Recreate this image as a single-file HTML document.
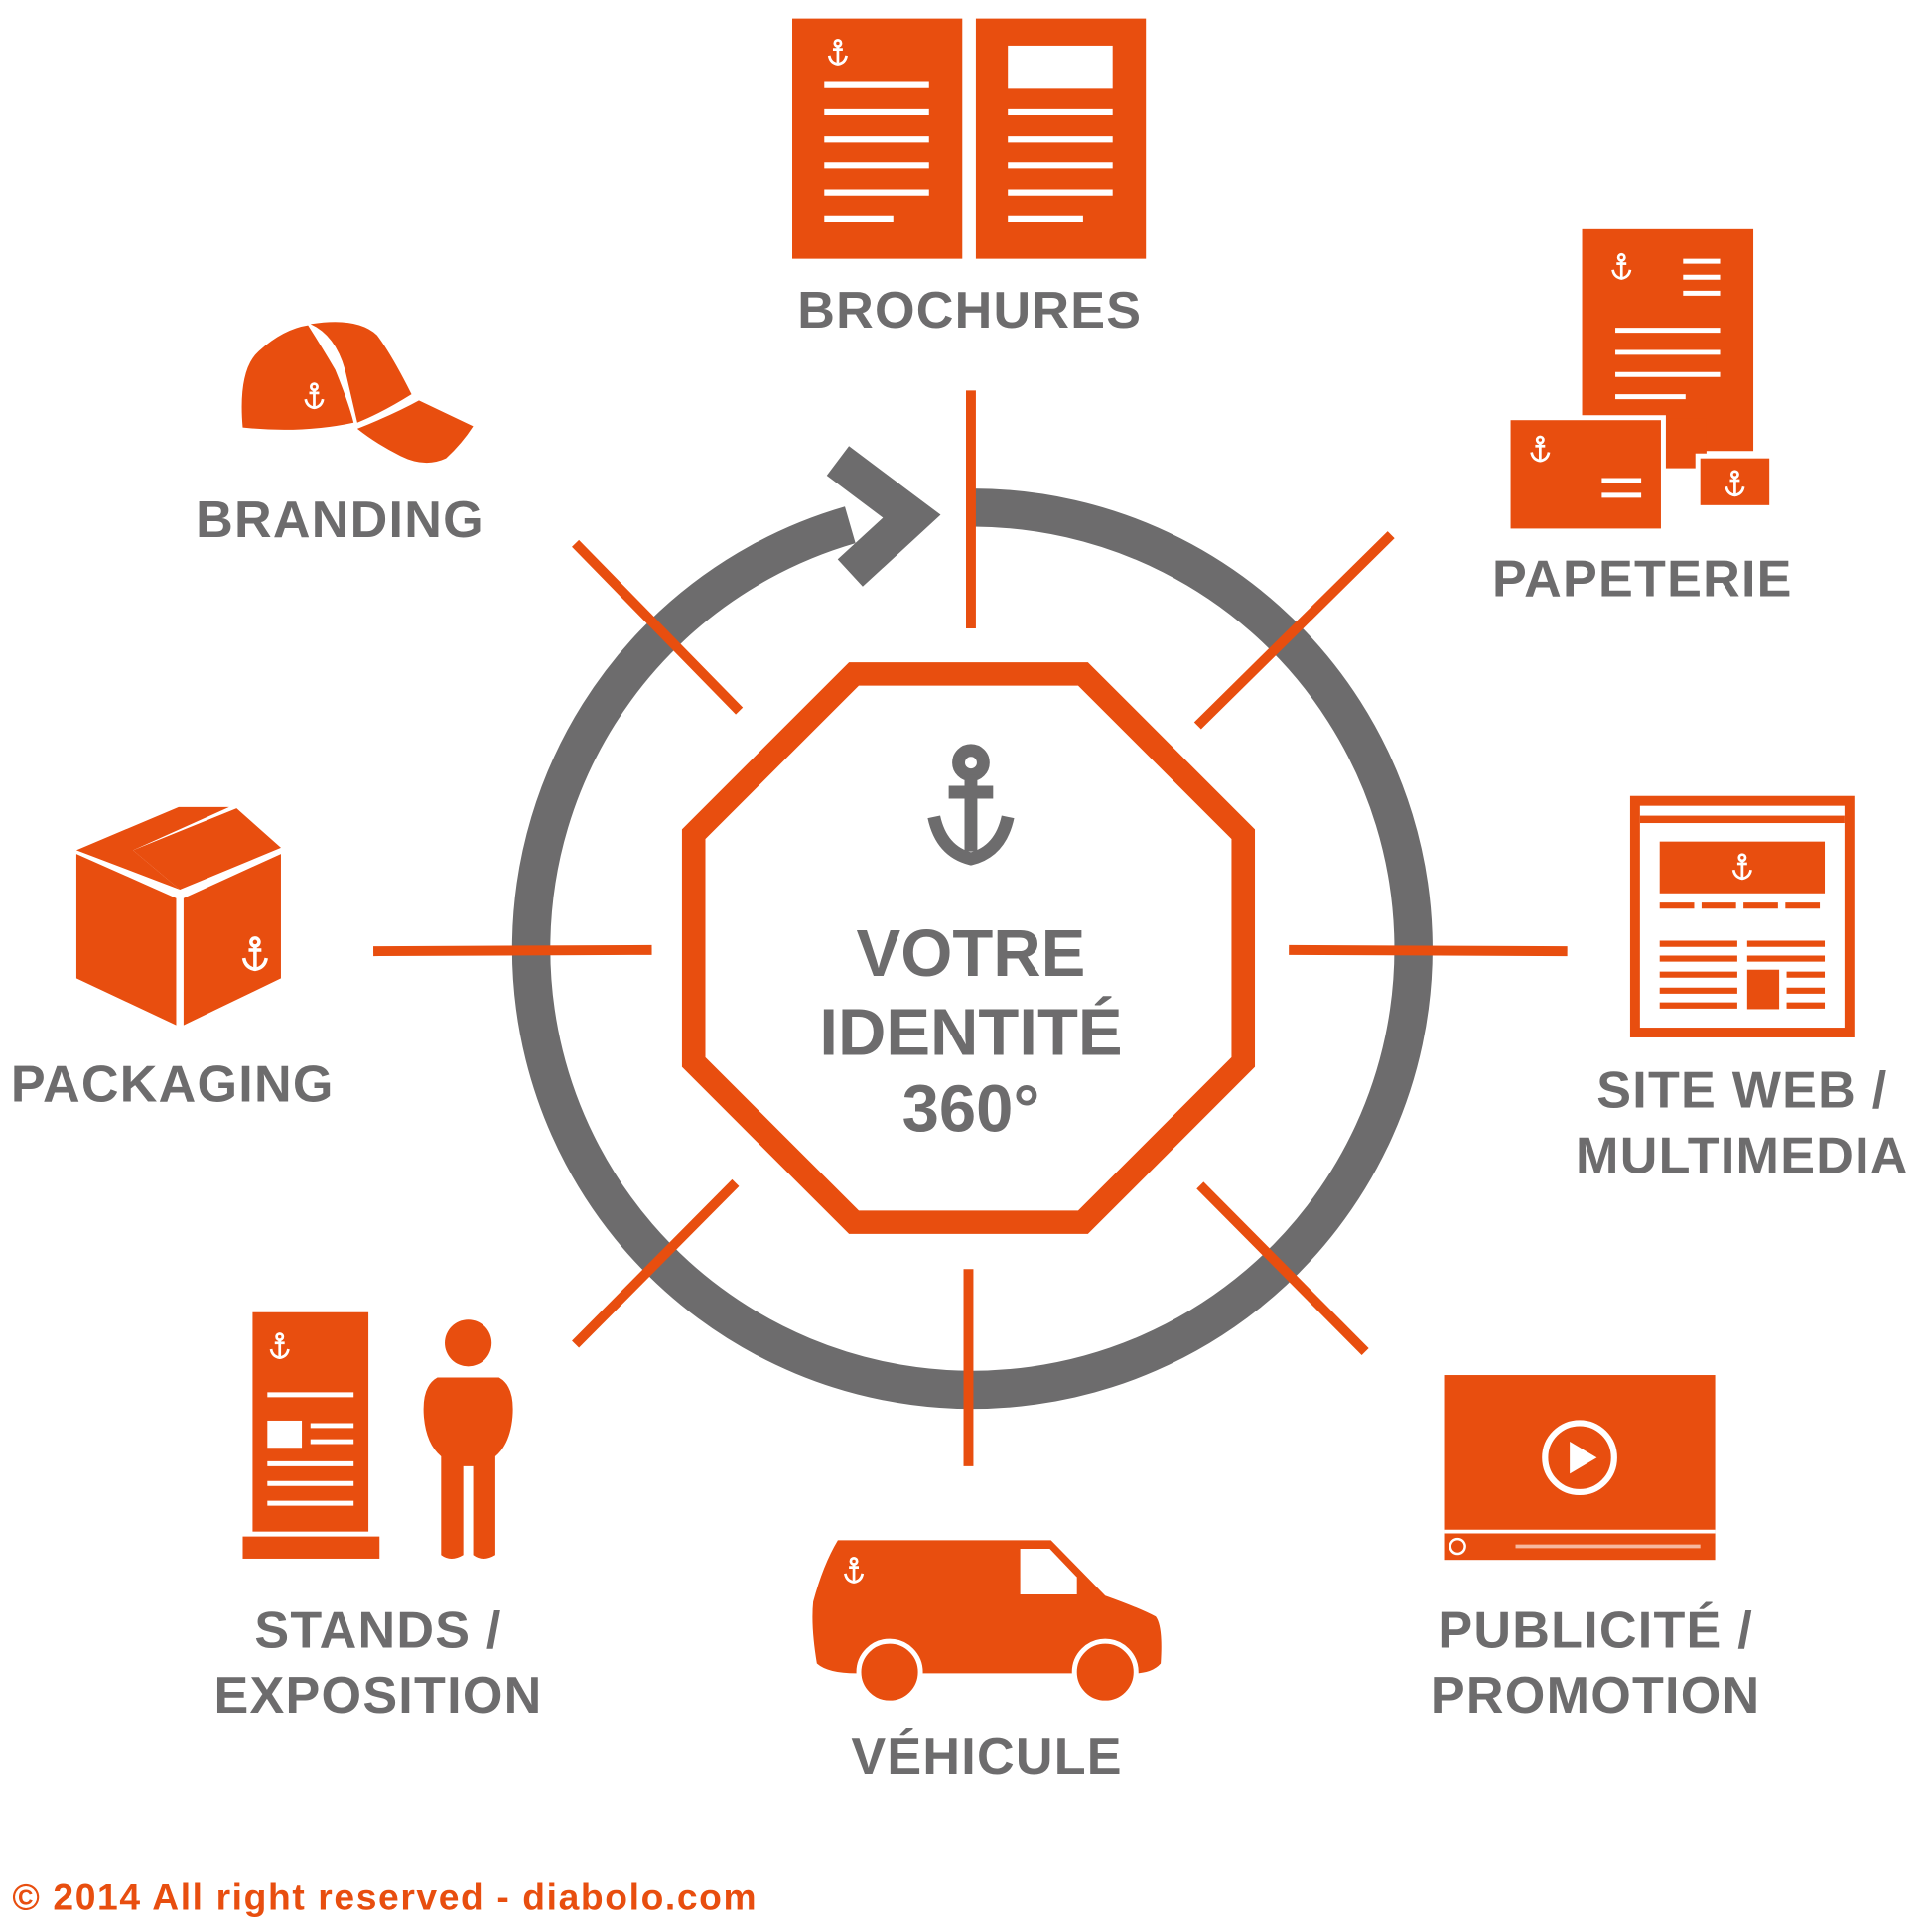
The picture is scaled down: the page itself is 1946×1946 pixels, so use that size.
<!DOCTYPE html>
<html><head><meta charset="utf-8"><style>
html,body{margin:0;padding:0;background:#fff}
svg{display:block}
text{font-family:"Liberation Sans",sans-serif;font-weight:bold;fill:#6d6c6d}
</style></head><body>
<svg width="1946" height="1946" viewBox="0 0 1568 1568" xmlns="http://www.w3.org/2000/svg">
<defs>
<g id="anc" fill="none" stroke="#fff" stroke-width="2.2">
<circle cx="0" cy="-8" r="2.5"/><line x1="0" y1="-5.5" x2="0" y2="8"/><line x1="-4" y1="-3" x2="4" y2="-3"/><path d="M-7 2 Q-6 8 0 9 Q6 8 7 2"/>
</g>
</defs>
<path d="M790 412 A358 358 0 1 1 690 426" fill="none" stroke="#6d6c6d" stroke-width="31"/>
<polyline points="680,374 740,419 690,465" fill="none" stroke="#6d6c6d" stroke-width="30"/>
<g stroke="#e84e0f" stroke-width="8">
<line x1="788" y1="317" x2="788" y2="510"/>
<line x1="786" y1="1030" x2="786" y2="1190"/>
<line x1="303" y1="772" x2="529" y2="771"/>
<line x1="1046" y1="771" x2="1272" y2="772"/>
<line x1="467" y1="441" x2="600" y2="577"/>
<line x1="1129" y1="434" x2="972" y2="589"/>
<line x1="597" y1="960" x2="467" y2="1091"/>
<line x1="974" y1="962" x2="1108" y2="1097"/>
</g>
<polygon points="693,547 879,547 1009,677 1009,862 879,992 693,992 563,862 563,677" fill="#fff" stroke="#e84e0f" stroke-width="19"/>
<g transform="translate(788,655) scale(4)" stroke="#6d6c6d" stroke-width="2.6" fill="none">
<circle cx="0" cy="-9" r="2.5"/><line x1="0" y1="-6.5" x2="0" y2="9"/><line x1="-4.5" y1="-3" x2="4.5" y2="-3"/><path d="M-7.5 2 Q-6 9 0 10.5 Q6 9 7.5 2"/>
</g>
<text x="788" y="792" font-size="54" text-anchor="middle">VOTRE</text>
<text x="788" y="856" font-size="54" text-anchor="middle">IDENTITÉ</text>
<text x="788" y="918" font-size="54" text-anchor="middle">360°</text>
<g font-size="42" letter-spacing="1">
<text x="787" y="266" text-anchor="middle">BROCHURES</text>
<text x="276" y="436" text-anchor="middle">BRANDING</text>
<text x="1333" y="484" text-anchor="middle">PAPETERIE</text>
<text x="140" y="894" text-anchor="middle">PACKAGING</text>
<text x="1414" y="899" text-anchor="middle">SITE WEB /</text>
<text x="1414" y="952" text-anchor="middle">MULTIMEDIA</text>
<text x="307" y="1337" text-anchor="middle">STANDS /</text>
<text x="307" y="1390" text-anchor="middle">EXPOSITION</text>
<text x="1295" y="1337" text-anchor="middle">PUBLICITÉ /</text>
<text x="1295" y="1390" text-anchor="middle">PROMOTION</text>
<text x="801" y="1440" text-anchor="middle">VÉHICULE</text>
</g>
<text x="10" y="1550" font-size="30" letter-spacing="1.3" style="fill:#e84e0f">© 2014 All right reserved - diabolo.com</text>
<g fill="#e84e0f"><rect x="643" y="15" width="138" height="195"/><rect x="792" y="15" width="138" height="195"/></g>
<g stroke="#fff" stroke-width="5">
<line x1="669" y1="69" x2="754" y2="69"/><line x1="669" y1="91" x2="754" y2="91"/><line x1="669" y1="113" x2="754" y2="113"/><line x1="669" y1="134" x2="754" y2="134"/><line x1="669" y1="156" x2="754" y2="156"/><line x1="669" y1="178" x2="725" y2="178"/>
<line x1="818" y1="91" x2="903" y2="91"/><line x1="818" y1="113" x2="903" y2="113"/><line x1="818" y1="134" x2="903" y2="134"/><line x1="818" y1="156" x2="903" y2="156"/><line x1="818" y1="178" x2="879" y2="178"/>
</g>
<rect x="818" y="37" width="85" height="35" fill="#fff"/>
<use href="#anc" transform="translate(680,43)"/>
<rect x="1284" y="186" width="139" height="180" fill="#e84e0f"/>
<rect x="1350" y="340" width="35" height="40" fill="#e84e0f"/>
<g stroke="#fff" stroke-width="4"><line x1="1366" y1="212" x2="1396" y2="212"/><line x1="1366" y1="225" x2="1396" y2="225"/><line x1="1366" y1="238" x2="1396" y2="238"/><line x1="1311" y1="268" x2="1396" y2="268"/><line x1="1311" y1="286" x2="1396" y2="286"/><line x1="1311" y1="304" x2="1396" y2="304"/><line x1="1311" y1="322" x2="1368" y2="322"/></g>
<rect x="1224" y="339" width="126" height="92" fill="#e84e0f" stroke="#fff" stroke-width="4"/>
<rect x="1378" y="370" width="60" height="42" fill="#e84e0f" stroke="#fff" stroke-width="4"/>
<g stroke="#fff" stroke-width="4"><line x1="1300" y1="390" x2="1332" y2="390"/><line x1="1300" y1="402" x2="1332" y2="402"/></g>
<use href="#anc" transform="translate(1316,217)"/><use href="#anc" transform="translate(1250,365)"/><use href="#anc" transform="translate(1408,393)"/>
<path d="M197 347 Q193 300 210 285 Q230 267 250 264 Q262 283 272 300 Q283 327 287 343 Q245 352 197 347Z" fill="#e84e0f"/>
<path d="M252 263 Q290 257 306 272 Q318 288 334 320 Q310 335 290 343 L280 300 Q272 272 252 263Z" fill="#e84e0f"/>
<path d="M290 348 Q320 336 340 325 L384 346 Q375 360 362 372 Q345 380 325 370 Q305 360 290 348Z" fill="#e84e0f"/>
<use href="#anc" transform="translate(255,322)"/>
<polygon points="62,690 145,655 186,655 108,690 146,722 62,690" fill="#e84e0f"/>
<polygon points="108,690 192,656 228,688 146,722" fill="#e84e0f"/>
<polygon points="62,693 143,729 143,832 62,794" fill="#e84e0f"/>
<polygon points="149,729 228,693 228,794 149,832" fill="#e84e0f"/>
<use href="#anc" transform="translate(207,775) scale(1.3)"/>
<rect x="1327" y="650" width="174" height="188" fill="none" stroke="#e84e0f" stroke-width="8"/>
<rect x="1331" y="662" width="166" height="6" fill="#e84e0f"/>
<rect x="1347" y="683" width="134" height="42" fill="#e84e0f"/>
<g stroke="#e84e0f" stroke-width="5"><line x1="1347" y1="735" x2="1481" y2="735" stroke-dasharray="28,6"/><line x1="1347" y1="766" x2="1410" y2="766"/><line x1="1347" y1="778" x2="1410" y2="778"/><line x1="1347" y1="791" x2="1410" y2="791"/><line x1="1347" y1="804" x2="1410" y2="804"/><line x1="1347" y1="816" x2="1410" y2="816"/><line x1="1418" y1="766" x2="1481" y2="766"/><line x1="1418" y1="778" x2="1481" y2="778"/><line x1="1450" y1="791" x2="1481" y2="791"/><line x1="1450" y1="804" x2="1481" y2="804"/><line x1="1450" y1="816" x2="1481" y2="816"/></g>
<rect x="1418" y="787" width="26" height="32" fill="#e84e0f"/>
<use href="#anc" transform="translate(1414,704)"/>
<rect x="205" y="1065" width="94" height="178" fill="#e84e0f"/>
<rect x="197" y="1247" width="111" height="18" fill="#e84e0f"/>
<g stroke="#fff" stroke-width="4"><line x1="217" y1="1132" x2="287" y2="1132"/><line x1="252" y1="1157" x2="287" y2="1157"/><line x1="252" y1="1170" x2="287" y2="1170"/><line x1="217" y1="1188" x2="287" y2="1188"/><line x1="217" y1="1204" x2="287" y2="1204"/><line x1="217" y1="1220" x2="287" y2="1220"/></g>
<rect x="217" y="1153" width="28" height="22" fill="#fff"/>
<use href="#anc" transform="translate(227,1093)"/>
<circle cx="380" cy="1090" r="19" fill="#e84e0f"/>
<path d="M355 1118 L405 1118 Q418 1125 416 1150 Q414 1172 402 1182 L402 1262 Q392 1268 384 1262 L384 1190 L376 1190 L376 1262 Q366 1268 358 1262 L358 1182 Q346 1172 344 1150 Q342 1125 355 1118Z" fill="#e84e0f"/>
<path d="M680 1250 L853 1250 L897 1295 Q925 1305 938 1312 Q944 1320 942 1350 Q935 1358 920 1358 L695 1358 Q672 1358 663 1350 Q658 1320 660 1300 Q668 1270 680 1250Z" fill="#e84e0f"/>
<polygon points="828,1257 852,1257 874,1280 874,1294 828,1294" fill="#fff"/>
<circle cx="722" cy="1357" r="25" fill="#e84e0f" stroke="#fff" stroke-width="4"/>
<circle cx="897" cy="1357" r="25" fill="#e84e0f" stroke="#fff" stroke-width="4"/>
<use href="#anc" transform="translate(693,1275)"/>
<rect x="1172" y="1116" width="220" height="150" fill="#e84e0f"/>
<line x1="1172" y1="1243" x2="1392" y2="1243" stroke="#fff" stroke-width="3"/>
<line x1="1230" y1="1255" x2="1380" y2="1255" stroke="#fff" stroke-opacity="0.6" stroke-width="3"/>
<circle cx="1183" cy="1255" r="6" fill="none" stroke="#fff" stroke-width="2"/>
<circle cx="1282" cy="1183" r="28" fill="none" stroke="#fff" stroke-width="5"/>
<polygon points="1274,1170 1274,1196 1296,1183" fill="#fff"/>
</svg>
</body></html>
